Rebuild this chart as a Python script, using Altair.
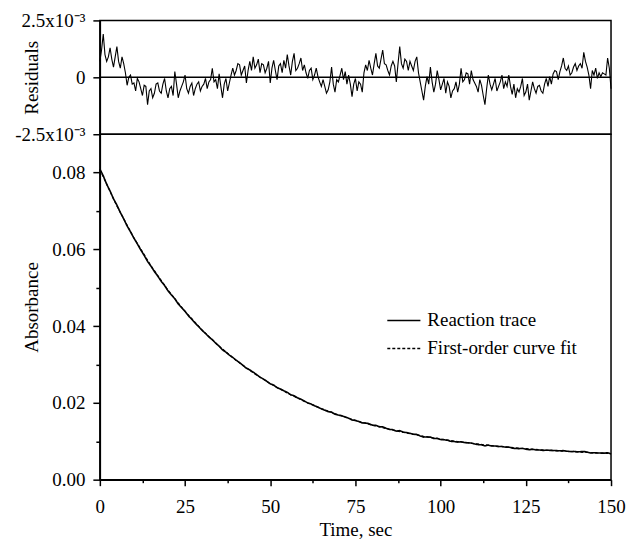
import altair as alt
import pandas as pd

# ---------------- data ----------------
TIME_S = list(range(0, 151))

# residuals at whole seconds, in units of 1e-3 absorbance
RESIDUALS_E3 = [
    0.7, 1.9, 0.7, 1.3, 0.45, 1.35, 0.4, 0.6, -0.35, 0.1,
    -0.25, -0.05, -0.5, -0.35, -1.2, -0.5, -0.7, -0.25, -0.7, -0.05,
    -0.9, -0.4, 0.25, -0.9, -0.4, 0.1, -0.7, -0.25, -0.5, -0.2,
    -0.4, -0.05, -0.2, 0.4, -0.1, 0.15, -0.9, -0.05, -0.25, 0.4,
    0.3, 0.55, 0.3, -0.25, 0.7, 0.9, 0.55, 0.2, 0.55, 0.4,
    -0.25, 0.75, -0.1, 0.6, 0.75, 1.0, 0.1, 1.05, 0.4, 0.85,
    0.55, -0.05, 0.4, 0.1, 0.03, -0.4, -0.4, -0.55, 0.45, -0.65,
    -0.2, 0.4, 0.25, 0.1, -0.85, -0.05, -0.2, -0.65, 0.55, 0.75,
    0.1, 1.05, 0.4, 1.2, 0.55, 0.1, 0.7, -0.2, 1.35, 0.4,
    0.7, 0.7, 0.3, 0.9, -0.2, -1.0, 0.03, 0.45, -0.65, 0.3,
    -0.55, -0.05, -0.2, -0.9, -0.5, -0.65, 0.4, -0.1, 0.15, 0.3,
    -0.25, -0.65, -0.35, -1.2, 0.1, -0.55, -0.05, -0.4, 0.1, -0.2,
    0.1, -0.75, -0.9, -0.65, -0.05, -0.65, -1.0, -0.2, -0.7, -0.35,
    -0.7, -0.05, 0.03, 0.15, 0.25, 0.25, 0.85, 0.3, 0.1, 0.45,
    0.3, 0.6, 1.1, 0.45, -0.5, 0.1, -0.05, 0.03, 0.15, 0.85,
    -0.5,
]

# residuals at half seconds (0.5, 1.5, ... 149.5), in units of 1e-3
HALF_TIME_S = [t + 0.5 for t in range(0, 150)]
RESIDUALS_HALF_E3 = [
    1.2, 1.0, 0.9, 0.8, 0.9, 0.7, 0.9, 0.2, 0.0, -0.3,
    -0.6, -0.2, -0.8, -0.4, -0.6, -0.9, -0.3, -0.6, -0.3, -0.6,
    -0.5, -0.8, -0.3, -0.6, -0.2, -0.5, -0.4, -0.8, -0.3, -0.6,
    -0.3, -0.5, -0.1, -0.2, -0.5, -0.4, -0.3, -0.6, 0.1, 0.1,
    0.6, 0.1, 0.5, 0.3, 0.3, 0.4, 0.8, 0.6, 0.2, 0.7,
    0.4, 0.3, 0.5, 0.2, 0.4, 0.5, 0.7, 0.3, 0.6, 0.3,
    0.2, 0.3, -0.1, 0.4, -0.2, -0.1, -0.7, -0.2, -0.3, -0.1,
    0.1, -0.1, -0.3, -0.3, -0.3, -0.6, -0.3, 0.2, 0.3, 0.4,
    0.6, 0.5, 0.8, 0.6, 0.3, 0.5, 0.5, 0.6, 0.6, 0.8,
    0.3, 0.5, 0.7, 0.2, -0.6, -0.4, -0.3, -0.2, -0.3, -0.1,
    -0.3, -0.7, -0.4, -0.6, -0.2, -0.3, -0.2, 0.2, -0.3, -0.1,
    -0.4, -0.1, -0.8, -0.5, -0.3, -0.3, -0.6, -0.2, -0.5, -0.4,
    -0.4, -0.3, -0.5, -0.4, -0.8, -0.3, -0.6, -0.5, -0.4, -0.6,
    -0.3, -0.4, -0.3, 0.3, -0.1, 0.5, 0.4, 0.5, 0.2, 0.6,
    0.5, 0.4, 0.7, 0.1, 0.3, 0.4, 0.2, 0.2, 0.1, 0.4,
]

# measured absorbance trace
TRACE = [
    0.08094, 0.07917, 0.07698, 0.07520, 0.07318, 0.07156, 0.06962, 0.06795, 0.06610, 0.06457,
    0.06293, 0.06144, 0.05986, 0.05844, 0.05686, 0.05562, 0.05424, 0.05303, 0.05167, 0.05057,
    0.04920, 0.04813, 0.04712, 0.04578, 0.04481, 0.04386, 0.04268, 0.04177, 0.04075, 0.03987,
    0.03892, 0.03809, 0.03719, 0.03647, 0.03555, 0.03480, 0.03381, 0.03322, 0.03244, 0.03185,
    0.03113, 0.03050, 0.02978, 0.02903, 0.02859, 0.02802, 0.02736, 0.02671, 0.02621, 0.02563,
    0.02497, 0.02465, 0.02397, 0.02362, 0.02317, 0.02275, 0.02212, 0.02187, 0.02131, 0.02098,
    0.02051, 0.01999, 0.01970, 0.01926, 0.01889, 0.01844, 0.01809, 0.01772, 0.01760, 0.01706,
    0.01683, 0.01665, 0.01633, 0.01601, 0.01554, 0.01543, 0.01513, 0.01479, 0.01477, 0.01457,
    0.01420, 0.01416, 0.01381, 0.01375, 0.01340, 0.01311, 0.01302, 0.01265, 0.01277, 0.01239,
    0.01227, 0.01209, 0.01184, 0.01179, 0.01141, 0.01109, 0.01115, 0.01108, 0.01071, 0.01076,
    0.01045, 0.01042, 0.01025, 0.00999, 0.00994, 0.00979, 0.00988, 0.00967, 0.00961, 0.00953,
    0.00931, 0.00913, 0.00909, 0.00882, 0.00899, 0.00876, 0.00877, 0.00862, 0.00863, 0.00849,
    0.00847, 0.00822, 0.00811, 0.00809, 0.00814, 0.00795, 0.00781, 0.00790, 0.00774, 0.00774,
    0.00761, 0.00768, 0.00764, 0.00761, 0.00757, 0.00752, 0.00758, 0.00742, 0.00733, 0.00736,
    0.00728, 0.00729, 0.00735, 0.00717, 0.00694, 0.00702, 0.00695, 0.00693, 0.00691, 0.00702,
    0.00671,
]

# first-order fit curve
FIT_TIME_S = list(range(0, 151, 5))
FIT = [
    0.08080, 0.07129, 0.06298, 0.05573, 0.04938, 0.04384, 0.03900, 0.03477,
    0.03107, 0.02784, 0.02502, 0.02256, 0.02040, 0.01852, 0.01688, 0.01544,
    0.01418, 0.01309, 0.01213, 0.01129, 0.01056, 0.00992, 0.00936, 0.00888,
    0.00845, 0.00808, 0.00775, 0.00747, 0.00722, 0.00700, 0.00681,
]

SERIES = ["Reaction trace", "First-order curve fit"]
X_TICKS = [0, 12.5, 25, 37.5, 50, 62.5, 75, 87.5, 100, 112.5, 125, 137.5, 150]
Y_TICKS = [0, 0.01, 0.02, 0.03, 0.04, 0.05, 0.06, 0.07, 0.08]
RES_TICKS = [-2.5, 0, 2.5]

# ---------------- chart ----------------
FONT = "Liberation Serif"
W = 512
H_TOP = 114
H_BOT = 346

res_df = pd.concat(
    [
        pd.DataFrame({"t": TIME_S, "r": RESIDUALS_E3}),
        pd.DataFrame({"t": HALF_TIME_S, "r": RESIDUALS_HALF_E3}),
    ]
).sort_values("t")
zero_df = pd.DataFrame({"r": [0.0]})

res_axis = alt.Axis(
    values=RES_TICKS,
    labelExpr="datum.value > 1 ? '2.5x10⁻³' : (datum.value < -1 ? '-2.5x10⁻³' : '0')",
    title="Residuals",
    titleX=-68,
    titleY=H_TOP / 2,
    titleBaseline="middle",
    tickSize=7,
)

top_line = alt.Chart(res_df).mark_line(color="black", strokeWidth=1.1).encode(
    x=alt.X("t:Q", scale=alt.Scale(domain=[0, 150], nice=False), axis=None),
    y=alt.Y("r:Q", scale=alt.Scale(domain=[-2.5, 2.5], nice=False), axis=res_axis),
)
zero_rule = alt.Chart(zero_df).mark_rule(color="black", strokeWidth=1.5).encode(
    y=alt.Y("r:Q", axis=res_axis)
)
top = alt.layer(top_line, zero_rule).properties(width=W, height=H_TOP)

trace_df = pd.DataFrame({"t": TIME_S, "A": TRACE, "series": SERIES[0]})
fit_df = pd.DataFrame({"t": FIT_TIME_S, "A": FIT, "series": SERIES[1]})

x_enc = alt.X(
    "t:Q",
    scale=alt.Scale(domain=[0, 150], nice=False),
    axis=alt.Axis(
        values=X_TICKS,
        labelExpr="datum.value % 25 == 0 ? format(datum.value, 'd') : ''",
        tickSize={"condition": {"test": "datum.value % 25 == 0", "value": 6}, "value": 3},
        labelFlush=False,
        labelOverlap=False,
        title="Time, sec",
        labelPadding=12,
        titlePadding=4,
    ),
)
y_enc = alt.Y(
    "A:Q",
    scale=alt.Scale(domain=[0, 0.09], nice=False),
    axis=alt.Axis(
        values=Y_TICKS,
        labelExpr="round(datum.value * 100) % 2 == 0 ? format(datum.value, '.2f') : ''",
        tickSize={"condition": {"test": "round(datum.value * 100) % 2 == 0", "value": 7}, "value": 4},
        labelOverlap=False,
        title="Absorbance",
        titleX=-68,
        titleY=H_BOT / 2,
        titleBaseline="middle",
    ),
)
dash_enc = alt.StrokeDash(
    "series:N",
    scale=alt.Scale(domain=SERIES, range=[[1, 0], [3, 2]]),
    legend=alt.Legend(
        title=None,
        orient="none",
        legendX=287,
        legendY=283,
        symbolType="stroke",
        symbolSize=1100,
        symbolStrokeWidth=1.5,
        symbolStrokeColor="black",
        labelFont=FONT,
        labelFontSize=19,
        labelColor="black",
        labelOffset=6,
        rowPadding=-2,
    ),
)

fit_line = alt.Chart(fit_df).mark_line(color="black", strokeWidth=1.2).encode(
    x=x_enc, y=y_enc, strokeDash=dash_enc
)
trace_line = alt.Chart(trace_df).mark_line(color="black", strokeWidth=1.6).encode(
    x=x_enc, y=y_enc, strokeDash=dash_enc
)
bottom = alt.layer(fit_line, trace_line).properties(width=W, height=H_BOT)

chart = (
    alt.vconcat(top, bottom, spacing=0, bounds="flush")
    .properties(padding={"left": 5, "top": 2, "right": 0, "bottom": 0})
    .configure_view(stroke="black", strokeWidth=1.5)
    .configure_axis(
        grid=False,
        domainColor="black",
        domainWidth=1.5,
        tickColor="black",
        tickWidth=1.5,
        labelFont=FONT,
        labelFontSize=19,
        labelColor="black",
        labelPadding=8,
        titleFont=FONT,
        titleFontSize=19,
        titleFontWeight="normal",
        titleColor="black",
    )
    .configure_concat(spacing=0)
)

chart.save("out.html", embed_options={"renderer": "svg", "actions": False})
